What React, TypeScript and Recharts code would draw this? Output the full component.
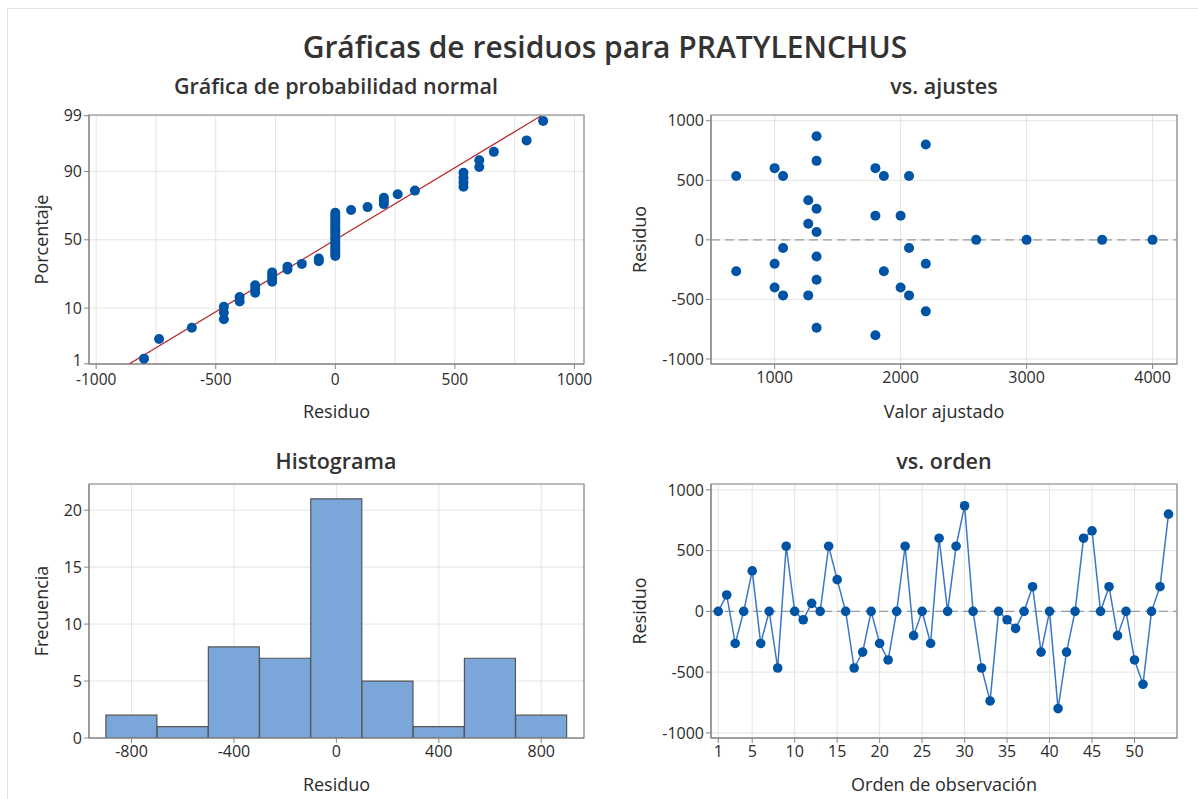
import React from 'react';
import {
  ScatterChart,
  Scatter,
  BarChart,
  Bar,
  LineChart,
  Line,
  XAxis,
  YAxis,
  CartesianGrid,
  ReferenceLine,
  ReferenceArea,
  Label
} from 'recharts';

// ---- data ----

// sorted residuals and their plotted percentages (normal probability plot)
const normResiduals = [
  -800, -737, -600, -466, -466, -466, -400, -400, -335, -335, -335, -264, -264, -264, -264,
  -200, -200, -140, -69, -69, 0, 0, 0, 0, 0, 0, 0, 0, 0, 0, 0, 0, 0, 0, 0, 0, 0, 0,
  66, 135, 203, 203, 203, 261, 333, 536, 536, 536, 536, 602, 602, 663, 800, 869
];
const normPercents = [
  1.29, 3.13, 4.96, 6.8, 8.64, 10.48, 12.32, 14.15, 15.99, 17.83, 19.67, 21.51, 23.35, 25.18,
  27.02, 28.86, 30.7, 32.54, 34.38, 36.21, 38.05, 39.89, 41.73, 43.57, 45.4, 47.24, 49.08,
  50.92, 52.76, 54.6, 56.43, 58.27, 60.11, 61.95, 63.79, 65.63, 67.46, 69.3, 71.14, 72.98,
  74.82, 76.65, 78.49, 80.33, 82.17, 84.01, 85.85, 87.68, 89.52, 91.36, 93.2, 95.04, 96.88,
  98.71
];
const probTickPercents = [1, 10, 50, 90, 99];
const fitMean = 0;
const fitSigma = 370;

// residual vs fitted value
const fittedValues = [
  695, 695, 1000, 1000, 1000, 1067, 1067, 1067, 1267, 1267, 1267,
  1333, 1333, 1333, 1333, 1333, 1333, 1333, 1800, 1800, 1800, 1867, 1867,
  2000, 2000, 2067, 2067, 2067, 2200, 2200, 2200, 2600, 3000, 3600, 4000
];
const fittedResiduals = [
  536, -264, 602, -200, -400, 536, -69, -466, 333, 135, -466,
  869, 663, 261, 66, -140, -335, -737, 602, 203, -800, 536, -264,
  203, -400, 536, -69, -466, 800, -200, -600, 0, 0, 0, 0
];

// histogram
const binMids = [-800, -600, -400, -200, 0, 200, 400, 600, 800];
const binCounts = [2, 1, 8, 7, 21, 5, 1, 7, 2];

// residual vs observation order
const orderResiduals = [
  0, 135, -264, 0, 333, -264, 0, -466, 536, 0, -69, 66, 0, 536, 261, 0, -466, -335,
  0, -264, -400, 0, 536, -200, 0, -264, 602, 0, 536, 869, 0, -466, -737, 0, -69, -140,
  0, 203, -335, 0, -800, -335, 0, 602, 663, 0, 203, -200, 0, -400, -600, 0, 203, 800
];

// inverse normal CDF (Acklam) for the probability axis
function probit(p: number): number {
  const a = [-39.69683028665376, 220.9460984245205, -275.9285104469687, 138.357751867269, -30.66479806614716, 2.506628277459239];
  const b = [-54.47609879822406, 161.5858368580409, -155.6989798598866, 66.80131188771972, -13.28068155288572];
  const c = [-0.007784894002430293, -0.3223964580411365, -2.400758277161838, -2.549732539343734, 4.374664141464968, 2.938163982698783];
  const d = [0.007784695709041462, 0.3224671290700398, 2.445134137142996, 3.754408661907416];
  const pl = 0.02425;
  if (p < pl) {
    const q = Math.sqrt(-2 * Math.log(p));
    return (((((c[0] * q + c[1]) * q + c[2]) * q + c[3]) * q + c[4]) * q + c[5]) /
      ((((d[0] * q + d[1]) * q + d[2]) * q + d[3]) * q + 1);
  }
  if (p > 1 - pl) {
    const q = Math.sqrt(-2 * Math.log(1 - p));
    return -(((((c[0] * q + c[1]) * q + c[2]) * q + c[3]) * q + c[4]) * q + c[5]) /
      ((((d[0] * q + d[1]) * q + d[2]) * q + d[3]) * q + 1);
  }
  const q = p - 0.5;
  const r = q * q;
  return (((((a[0] * r + a[1]) * r + a[2]) * r + a[3]) * r + a[4]) * r + a[5]) * q /
    (((((b[0] * r + b[1]) * r + b[2]) * r + b[3]) * r + b[4]) * r + 1);
}

const normData = normResiduals.map((r, i) => ({ x: r, z: probit(normPercents[i] / 100) }));
const fitLine = [0.01, 0.99].map(p => ({ x: fitMean + fitSigma * probit(p), z: probit(p) }));
const probTicks = probTickPercents.map(p => probit(p / 100));
const fitsData = fittedValues.map((f, i) => ({ x: f, y: fittedResiduals[i] }));
const histData = binMids.map((m, i) => ({ mid: m, count: binCounts[i] }));
const orderData = orderResiduals.map((r, i) => ({ obs: i + 1, res: r }));

// axis ranges
const normX: [number, number] = [-1030, 1040];
const normZ: [number, number] = [-2.33, 2.34];
const fitsX: [number, number] = [495, 4194];
const resY: [number, number] = [-1042, 1048];
const histX: [number, number] = [-966, 967];
const histY: [number, number] = [0, 22.3];
const orderX: [number, number] = [0.15, 55];

const FONT = '"Open Sans", "Noto Sans", sans-serif';
const TEXT = '#2b2b2b';
const GRID = '#e4e4e4';
const FRAME = '#858585';
const DOT = '#0054a6';
const tickStyle = { fill: TEXT, fontSize: 16 };
const axisLabelStyle = { fill: TEXT, fontSize: 18, fontWeight: 500, textAnchor: 'middle' as const };

const dotShape = (props: any) => (
  <circle cx={props.cx} cy={props.cy} r={5} fill={DOT} />
);

// percentage ticks for the probability axis; the lowest one sits a little higher
const ProbTick = (props: any) => {
  const v = props.payload.value;
  const i = probTicks.findIndex(t => Math.abs(t - v) < 1e-6);
  const label = i >= 0 ? String(probTickPercents[i]) : '';
  return (
    <text x={props.x} y={props.y} dy={i === 0 ? 2.5 : 5.7} textAnchor="end" fill={TEXT} fontSize={16}>
      {label}
    </text>
  );
};

const frame = (x: [number, number], y: [number, number]) => (
  <ReferenceArea x1={x[0]} x2={x[1]} y1={y[0]} y2={y[1]} fill="none" fillOpacity={0}
    stroke={FRAME} strokeWidth={1.2} ifOverflow="visible" />
);

const titleStyle: React.CSSProperties = {
  position: 'absolute',
  textAlign: 'center',
  color: '#333333',
  fontWeight: 600,
  whiteSpace: 'nowrap'
};

const App: React.FC = () => {
  return (
    <div style={{ position: 'absolute', left: 0, top: 0, width: 1198, height: 799, overflow: 'hidden', background: '#fff', fontFamily: FONT }}>
      <div style={{ position: 'absolute', left: 7, top: 8, width: 1200, height: 800, borderTop: '1px solid #e2e2e2', borderLeft: '1px solid #e2e2e2' }} />

      <div style={{ ...titleStyle, left: 205, width: 800, top: 27, fontSize: 30, lineHeight: '40px' }}>
        Gráficas de residuos para PRATYLENCHUS
      </div>
      <div style={{ ...titleStyle, left: 86, width: 500, top: 71, fontSize: 21.5, lineHeight: '30px' }}>
        Gráfica de probabilidad normal
      </div>
      <div style={{ ...titleStyle, left: 694, width: 500, top: 71, fontSize: 21.5, lineHeight: '30px' }}>
        vs. ajustes
      </div>
      <div style={{ ...titleStyle, left: 86, width: 500, top: 446, fontSize: 21.5, lineHeight: '30px' }}>
        Histograma
      </div>
      <div style={{ ...titleStyle, left: 694, width: 500, top: 446, fontSize: 21.5, lineHeight: '30px' }}>
        vs. orden
      </div>

      {/* normal probability plot */}
      <div style={{ position: 'absolute', left: 0, top: 100 }}>
        <ScatterChart width={600} height={330} margin={{ top: 15, right: 16, bottom: 0, left: 0 }}>
          <CartesianGrid stroke={GRID} verticalValues={[-1000, -750, -500, -250, 0, 250, 500, 750, 1000]} />
          <XAxis dataKey="x" type="number" domain={normX} ticks={[-1000, -500, 0, 500, 1000]}
            allowDataOverflow height={66} tick={{ ...tickStyle, fontSize: 15.5 }} tickSize={5} tickMargin={5}
            axisLine={{ stroke: FRAME }} tickLine={{ stroke: FRAME }}>
            <Label value="Residuo" position="insideBottom" offset={12} style={axisLabelStyle} />
          </XAxis>
          <YAxis dataKey="z" type="number" domain={normZ} ticks={probTicks} allowDataOverflow
            width={89} tick={<ProbTick />} tickSize={5} tickMargin={2}
            axisLine={{ stroke: FRAME }} tickLine={{ stroke: FRAME }}>
            <Label value="Porcentaje" angle={-90} position="insideLeft" offset={42} style={axisLabelStyle} />
          </YAxis>
          {frame(normX, normZ)}
          <Scatter data={fitLine} line={{ stroke: '#b8272b', strokeWidth: 1.2 }} shape={() => <g />}
            isAnimationActive={false} />
          <Scatter data={normData} shape={dotShape} isAnimationActive={false} />
        </ScatterChart>
      </div>

      {/* residuals vs fits */}
      <div style={{ position: 'absolute', left: 600, top: 100 }}>
        <ScatterChart width={598} height={330} margin={{ top: 15, right: 21, bottom: 0, left: 0 }}>
          <CartesianGrid stroke={GRID} />
          <XAxis dataKey="x" type="number" domain={fitsX} ticks={[1000, 2000, 3000, 4000]}
            allowDataOverflow height={66} tick={tickStyle} tickSize={5} tickMargin={3}
            axisLine={{ stroke: FRAME }} tickLine={{ stroke: FRAME }}>
            <Label value="Valor ajustado" position="insideBottom" offset={12} style={axisLabelStyle} />
          </XAxis>
          <YAxis dataKey="y" type="number" domain={resY} ticks={[-1000, -500, 0, 500, 1000]}
            allowDataOverflow width={111} tick={tickStyle} tickSize={5} tickMargin={2}
            axisLine={{ stroke: FRAME }} tickLine={{ stroke: FRAME }}>
            <Label value="Residuo" angle={-90} position="insideLeft" offset={40} style={axisLabelStyle} />
          </YAxis>
          {frame(fitsX, resY)}
          <ReferenceLine y={0} stroke="#9a9a9a" strokeDasharray="9 5" strokeWidth={1.2} />
          <Scatter data={fitsData} shape={dotShape} isAnimationActive={false} />
        </ScatterChart>
      </div>

      {/* histogram */}
      <div style={{ position: 'absolute', left: 0, top: 470 }}>
        <BarChart width={600} height={329} data={histData} barCategoryGap={0} barGap={0}
          margin={{ top: 14, right: 16, bottom: 0, left: 0 }}>
          <CartesianGrid stroke={GRID} />
          <XAxis dataKey="mid" type="number" domain={histX} ticks={[-800, -400, 0, 400, 800]}
            allowDataOverflow height={61} tick={tickStyle} tickSize={5} tickMargin={3}
            axisLine={{ stroke: FRAME }} tickLine={{ stroke: FRAME }}>
            <Label value="Residuo" position="insideBottom" offset={8} style={axisLabelStyle} />
          </XAxis>
          <YAxis type="number" domain={histY} ticks={[0, 5, 10, 15, 20]} allowDataOverflow
            width={89} tick={tickStyle} tickSize={5} tickMargin={2}
            axisLine={{ stroke: FRAME }} tickLine={{ stroke: FRAME }}>
            <Label value="Frecuencia" angle={-90} position="insideLeft" offset={42} style={axisLabelStyle} />
          </YAxis>
          {frame(histX, histY)}
          <Bar dataKey="count" fill="#7ba6d9" stroke="#555555" strokeWidth={1.2} isAnimationActive={false} />
        </BarChart>
      </div>

      {/* residuals vs order */}
      <div style={{ position: 'absolute', left: 600, top: 470 }}>
        <LineChart width={598} height={329} data={orderData}
          margin={{ top: 14, right: 21, bottom: 0, left: 0 }}>
          <CartesianGrid stroke={GRID} />
          <XAxis dataKey="obs" type="number" domain={orderX} ticks={[1, 5, 10, 15, 20, 25, 30, 35, 40, 45, 50]}
            allowDataOverflow height={61} tick={tickStyle} tickSize={5} tickMargin={3}
            axisLine={{ stroke: FRAME }} tickLine={{ stroke: FRAME }}>
            <Label value="Orden de observación" position="insideBottom" offset={8} style={axisLabelStyle} />
          </XAxis>
          <YAxis type="number" domain={resY} ticks={[-1000, -500, 0, 500, 1000]}
            allowDataOverflow width={111} tick={tickStyle} tickSize={5} tickMargin={2}
            axisLine={{ stroke: FRAME }} tickLine={{ stroke: FRAME }}>
            <Label value="Residuo" angle={-90} position="insideLeft" offset={40} style={axisLabelStyle} />
          </YAxis>
          {frame(orderX, resY)}
          <ReferenceLine y={0} stroke="#9a9a9a" strokeDasharray="9 5" strokeWidth={1.2} />
          <Line type="linear" dataKey="res" stroke="#3a78c6" strokeWidth={1.5}
            dot={{ r: 4.8, fill: DOT, stroke: DOT, strokeWidth: 0 }} activeDot={false}
            isAnimationActive={false} />
        </LineChart>
      </div>
    </div>
  );
};

export default App;
